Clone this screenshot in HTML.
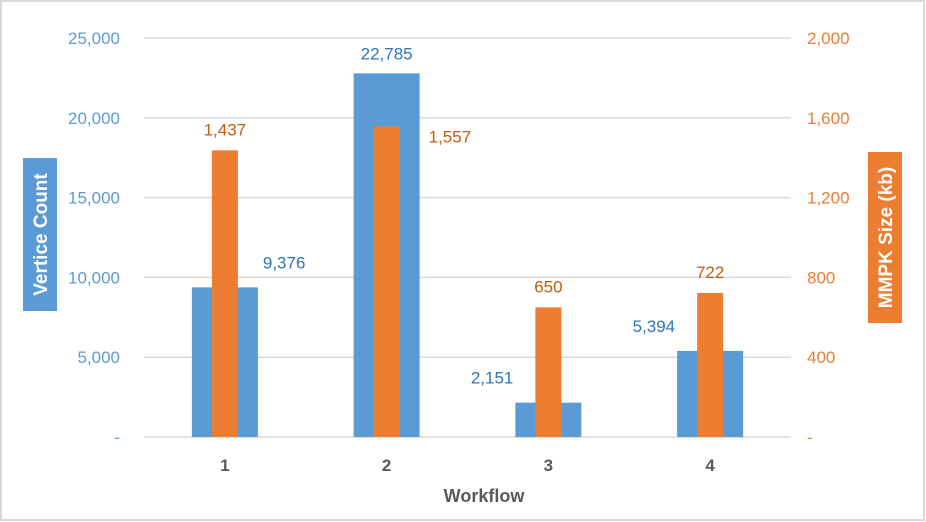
<!DOCTYPE html>
<html><head><meta charset="utf-8"><style>
body{margin:0;background:#fff;}
svg{display:block;font-family:"Liberation Sans",sans-serif;}
</style></head><body>
<svg width="926" height="522" viewBox="0 0 926 522">
<rect x="1" y="1" width="923" height="519" fill="#fff" stroke="#d9d9d9" stroke-width="2"/>
<g id="grid"></g><g id="bars"></g><g id="labels"></g>
<text x="484" y="502" text-anchor="middle" font-size="18" font-weight="bold" fill="#595959">Workflow</text>
<rect x="23" y="158" width="34" height="153" fill="#5b9bd5"/>
<text transform="translate(47,234.5) rotate(-90)" text-anchor="middle" font-size="19" font-weight="bold" fill="#fff">Vertice Count</text>
<rect x="868" y="152" width="34" height="171" fill="#ed7d31"/>
<text transform="translate(892,237.5) rotate(-90)" text-anchor="middle" font-size="19" font-weight="bold" fill="#fff">MMPK Size (kb)</text>
</svg>
<script>
const categories=["1","2","3","4"];
const vertices=[9376,22785,2151,5394];
const mmpk=[1437,1557,650,722];
const leftTicks=[0,5000,10000,15000,20000,25000];
const rightTicks=[0,400,800,1200,1600,2000];
// label placement: 'r' right, 't' top, 'l' left
const vPos=['r','t','l','l'];
const mPos=['t','r','t','t'];
const NS="http://www.w3.org/2000/svg";
const X0=144,X1=791,Y0=437,H=399;
const band=(X1-X0)/categories.length;
const cx=i=>X0+band*(i+0.5);
const yL=v=>Y0-v/25000*H;
const yR=v=>Y0-v/2000*H;
const fmt=v=>v===0?"-":v.toLocaleString("en-US");
function mk(tag,a,p,t){const e=document.createElementNS(NS,tag);for(const k in a)e.setAttribute(k,a[k]);if(t!==undefined)e.textContent=t;document.getElementById(p).appendChild(e);return e;}
leftTicks.forEach((v,i)=>{
 const l=mk("line",{x1:X0,x2:X1,y1:yL(v),y2:yL(v),stroke:"#d9d9d9","stroke-width":1.5},"grid");
 
 
 const t=mk("text",{x:120,y:yL(v)+6,"text-anchor":"end","font-size":17,fill:"#5b9bd5"},"grid",fmt(v));
 
 
});
rightTicks.forEach((v,i)=>{
 const t=mk("text",{x:807,y:yR(v)+6,"font-size":17,fill:"#ed7d31"},"grid",fmt(v));
 
 
});
categories.forEach((c,i)=>{
 const x=cx(i);
 const b=mk("rect",{x:x-33,width:66,y:yL(vertices[i]),height:Y0-yL(vertices[i]),fill:"#5b9bd5"},"bars");
 
 
 const o=mk("rect",{x:x-13,width:26,y:yR(mmpk[i]),height:Y0-yR(mmpk[i]),fill:"#ed7d31"},"bars");
 
 
 const ct=mk("text",{x:x,y:471,"text-anchor":"middle","font-size":17,"font-weight":"bold",fill:"#595959"},"labels",c);
 
 
 let vy=yL(vertices[i]),vx=x,va="middle";
 if(vPos[i]==='t'){vy-=14;}else if(vPos[i]==='r'){vx=x+38;va="start";vy-=19;}else{vx=x-35;va="end";vy-=19;}
 const vl=mk("text",{x:vx,y:vy,"text-anchor":va,"font-size":17,fill:"#2e75b6"},"labels",fmt(vertices[i]));
 
 
 let my=yR(mmpk[i]),mx=x,ma="middle";
 if(mPos[i]==='t'){my-=15;}else{mx=x+42;ma="start";my+=16;}
 const ml=mk("text",{x:mx,y:my,"text-anchor":ma,"font-size":17,fill:"#c55a11"},"labels",fmt(mmpk[i]));
 
 
});
</script>
</body></html>
